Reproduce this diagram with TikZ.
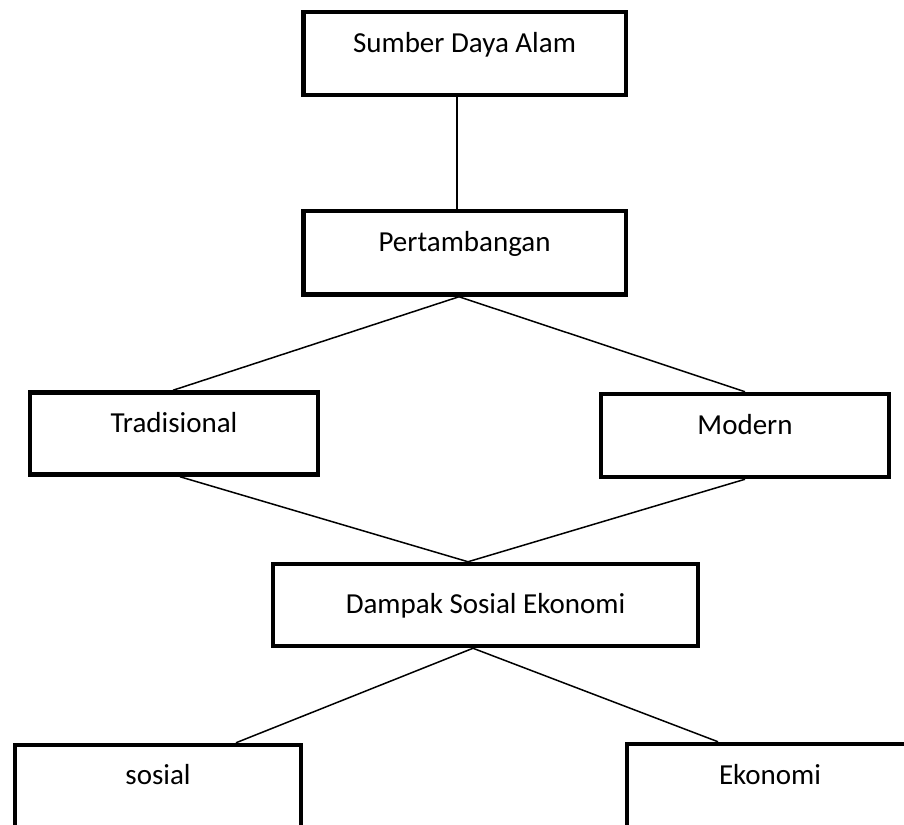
\documentclass[tikz,border=0pt]{standalone}
\usepackage{fontspec}
\setmainfont{Carlito}
\begin{document}
\begin{tikzpicture}[x=1pt,y=-1pt,
  box/.style={draw, line width=4.5pt, inner sep=0pt, align=center,
    font=\fontsize{29}{34}\selectfont, anchor=base},
  link/.style={line width=1.5pt}]
\clip (0,0) rectangle (904,824);
\fill[white] (0,0) rectangle (904,824);
\node[box, minimum width=322.5pt, text height=41pt, text depth=42pt] (sda) at (464.5,53) {Sumber Daya Alam};
\node[box, minimum width=322.5pt, text height=40pt, text depth=43.5pt] (pt) at (464.5,251) {Pertambangan};
\node[box, minimum width=288pt, text height=39.5pt, text depth=42.5pt] (trad) at (174,432) {Tradisional};
\node[box, minimum width=288pt, text height=40pt, text depth=43pt] (mod) at (745,434) {Modern};
\node[box, minimum width=425pt, text height=49pt, text depth=33pt] (dse) at (485.5,613) {Dampak Sosial Ekonomi};
\node[box, minimum width=286pt, text height=39pt, text depth=46pt] (sos) at (158,784) {sosial};
\node[box, minimum width=286pt, text height=40pt, text depth=46pt] (eko) at (770,784) {Ekonomi};
\draw[link] ([xshift=-7.5pt]sda.south) -- ([xshift=-7.5pt]pt.north);
\draw[link] ([xshift=-5.5pt]pt.south) -- ([xshift=-1pt]trad.north);
\draw[link] ([xshift=-5.5pt]pt.south) -- (mod.north);
\draw[link] ([xshift=6pt]trad.south) -- ([xshift=-17.5pt]dse.north);
\draw[link] (mod.south) -- ([xshift=-17.5pt]dse.north);
\draw[link] ([xshift=-12.5pt]dse.south) -- ([xshift=78pt]sos.north);
\draw[link] ([xshift=-12.5pt]dse.south) -- ([xshift=-52pt]eko.north);
\end{tikzpicture}
\end{document}
